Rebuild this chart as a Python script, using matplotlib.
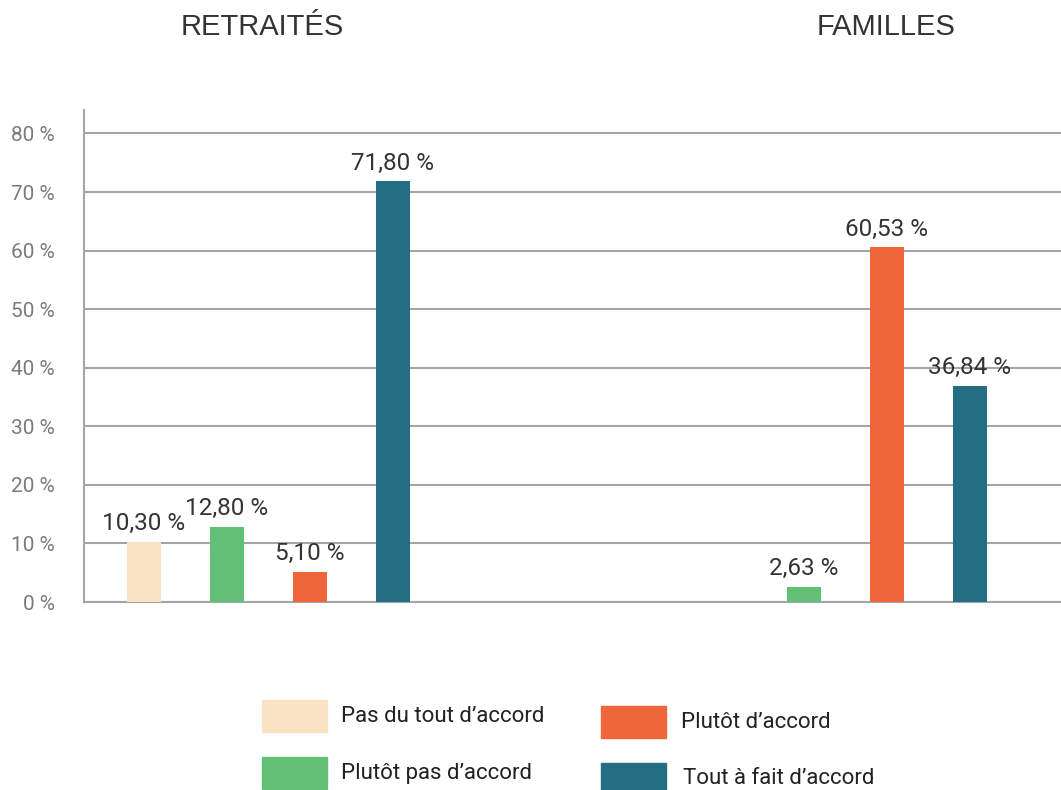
import matplotlib
matplotlib.use("Agg")
import matplotlib.pyplot as plt
from matplotlib.patches import Rectangle

groups = ["RETRAITÉS", "FAMILLES"]
categories = ["Pas du tout d'accord", "Plutôt pas d'accord", "Plutôt d'accord", "Tout à fait d'accord"]
retraites = [10.30, 12.80, 5.10, 71.80]
familles = [0.0, 2.63, 60.53, 36.84]
yticks = [0, 10, 20, 30, 40, 50, 60, 70, 80]
colors = ["#f9e3c3", "#62bf76", "#ee663a", "#246e83"]

W, H = 1061, 790
fig = plt.figure(figsize=(W / 100, H / 100), dpi=100)
ax = fig.add_axes([84 / W, 1 - 602 / H, (W - 84) / W, 492 / H])

narrow = ["Roboto", "DejaVu Sans"]
title_f = ["Liberation Sans", "DejaVu Sans"]
grid_c = "#a3a6a6"

group_offsets = [0.0, 6.95]
series = [retraites, familles]
for g, (off, vals) in enumerate(zip(group_offsets, series)):
    for i, v in enumerate(vals):
        if v <= 0:
            continue
        x = off + i
        ax.bar(x, v, width=0.41, color=colors[i], zorder=3)
        lbl = f"{v:.2f} %".replace(".", ",")
        ax.annotate(lbl, (x, v), xytext=(0, 5), textcoords="offset points",
                    ha="center", va="bottom", fontsize=17.5, family=narrow,
                    color="#333333", zorder=4)

ax.set_xlim(-0.723, 11.05)
ax.set_ylim(0, 84)
ax.set_yticks(yticks)
ax.set_yticklabels([f"{t} %" for t in yticks], fontsize=15, color="#7a7b7d",
                   family=narrow, fontweight="normal")
ax.tick_params(axis="y", length=0, pad=21)
ax.set_xticks([])
ax.yaxis.grid(True, color=grid_c, linewidth=1.5, zorder=0)
ax.set_axisbelow(True)
for s in ["top", "right"]:
    ax.spines[s].set_visible(False)
ax.spines["left"].set_color(grid_c)
ax.spines["left"].set_linewidth(1.5)
ax.spines["bottom"].set_color(grid_c)
ax.spines["bottom"].set_linewidth(1.5)

# group titles
fig.text(262 / W, 1 - 27 / H, groups[0], ha="center", va="center", fontsize=21,
         family=title_f, color="#333333")
fig.text(886 / W, 1 - 27 / H, groups[1], ha="center", va="center", fontsize=21,
         family=title_f, color="#333333")

# legend
leg = [(262, 700, 341, 716), (262, 757, 341, 773), (601, 706, 681, 722), (601, 763, 683, 779)]
for (px, py, tx, ty), c, lab in zip(leg, colors, categories):
    fig.patches.append(Rectangle((px / W, 1 - (py + 32) / H), 65 / W, 32 / H,
                                 transform=fig.transFigure, color=c))
    fig.text(tx / W, 1 - ty / H, lab.replace("'", "\u2019"), ha="left", va="center",
             fontsize=16, family=narrow, color="#222222")

fig.savefig("out.png", dpi=100)
